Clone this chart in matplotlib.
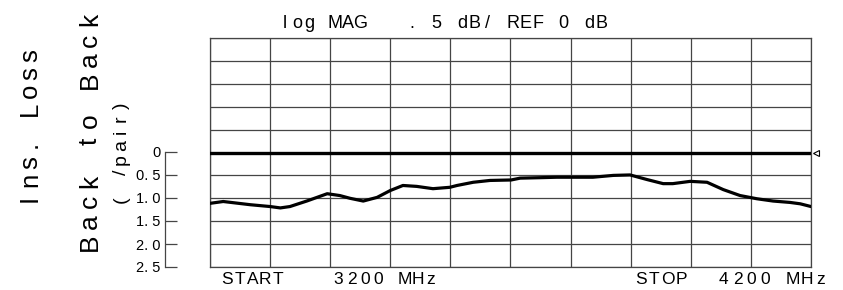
import matplotlib
matplotlib.use("Agg")
import matplotlib.pyplot as plt
import matplotlib.transforms as mtransforms
import numpy as np

# trace (insertion loss, dB per pair)
freq_mhz = [3200, 3222, 3267, 3300, 3317, 3333, 3361, 3395, 3416, 3433,
            3455, 3478, 3500, 3521, 3544, 3571, 3599, 3611, 3638, 3666,
            3701, 3716, 3749, 3777, 3804, 3837, 3871, 3899, 3927, 3954,
            3970, 3999, 4027, 4054, 4082, 4110, 4137, 4165, 4182, 4200]
loss_db = [1.11, 1.07, 1.14, 1.18, 1.21, 1.18, 1.06, 0.90, 0.94, 1.00,
           1.06, 0.98, 0.83, 0.72, 0.74, 0.79, 0.76, 0.72, 0.65, 0.61,
           0.60, 0.56, 0.55, 0.54, 0.54, 0.54, 0.50, 0.49, 0.59, 0.68,
           0.68, 0.63, 0.65, 0.81, 0.94, 1.01, 1.06, 1.09, 1.12, 1.18]

scale_ticks = [0, 0.5, 1.0, 1.5, 2.0, 2.5]
scale_labels = ["0", "0. 5", "1. 0", "1. 5", "2. 0", "2. 5"]

plt.rcParams['font.family'] = ['Liberation Sans', 'DejaVu Sans']

W, H = 843, 290
fig = plt.figure(figsize=(W / 100, H / 100), dpi=100)


def box(x0, y0, x1, y1):
    # pixel box -> figure fraction [left, bottom, width, height]
    return [x0 / W, 1 - y1 / H, (x1 - x0) / W, (y1 - y0) / H]


def mono(x0, y0, s, pitch, size, vertical=False):
    # the analyser prints with a fixed character pitch, so lay the
    # glyphs out one per cell (pixel coords, y measured from top)
    for i, ch in enumerate(s):
        if ch == ' ':
            continue
        c = (i + 0.5) * pitch
        if vertical:
            fig.text(x0 / W, 1 - (y0 - c) / H, ch, fontsize=size, rotation=90,
                     rotation_mode='anchor', ha='center', va='baseline')
        else:
            fig.text((x0 + c) / W, 1 - y0 / H, ch, fontsize=size,
                     ha='center', va='baseline')


grid_col = '#454545'

ax = fig.add_axes(box(210, 38, 811, 267))
ax.set_xlim(3200, 4200)
ax.set_ylim(2.5, -2.5)
ax.set_xticks(np.linspace(3200, 4200, 11))
ax.set_yticks(np.linspace(-2.5, 2.5, 11))
ax.grid(True, color=grid_col, lw=0.9)
ax.tick_params(length=0, labelbottom=False, labelleft=False)
for s in ax.spines.values():
    s.set_color(grid_col)
    s.set_linewidth(0.9)

ax.axhline(0, color='black', lw=2.4, zorder=3)
ax.plot(freq_mhz, loss_db, color='black', lw=2.3, zorder=4)

# reference position marker just right of the graticule
off = mtransforms.ScaledTranslation(5 / 100, 0, fig.dpi_scale_trans)
ax.plot([4200], [0], marker='<', ms=5, mfc='white', mec='black', mew=0.8,
        clip_on=False, transform=ax.transData + off, zorder=5)

# separate scale on the left
ax2 = fig.add_axes(box(165, 152, 185, 267))
ax2.set_ylim(2.5, 0)
ax2.set_xlim(0, 1)
ax2.set_yticks(scale_ticks)
ax2.set_yticklabels(scale_labels, fontsize=10.5)
ax2.set_xticks([])
ax2.patch.set_visible(False)
for k in ['top', 'right', 'bottom']:
    ax2.spines[k].set_visible(False)
ax2.spines['left'].set_color(grid_col)
ax2.spines['left'].set_linewidth(0.9)
ax2.tick_params(axis='y', direction='in', length=8.5, width=0.9,
                color=grid_col, pad=3)

mono(37, 207, "Ins. Loss", 17.8, 18.5, vertical=True)
mono(97, 252, "Back to Back", 20.2, 19, vertical=True)
mono(126, 206, "( /pair)", 13.4, 14, vertical=True)

mono(278, 28, "log MAG   . 5 dB/ REF 0 dB", 12.7, 13)

mono(221, 284, "START", 12.6, 12.5)
mono(332, 284, "3200 MHz", 13.2, 12.5)
mono(634, 284, "STOP", 13.5, 12.5)
mono(717, 284, "4200 MHz", 13.8, 12.5)

fig.savefig("out.png", dpi=100)
